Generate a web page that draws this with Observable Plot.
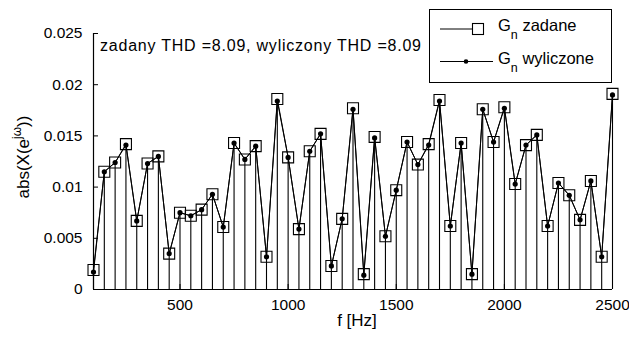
<!DOCTYPE html>
<html>
<head>
<meta charset="utf-8">
<script src="https://cdn.jsdelivr.net/npm/d3@7"></script>
<script src="https://cdn.jsdelivr.net/npm/@observablehq/plot@0.6"></script>
<style>
  html, body { margin: 0; padding: 0; background: #fff; }
  svg { display: block; }
</style>
</head>
<body>
<div id="chart"></div>
<script>
// Frequencies of harmonics (Hz)
const freqs = d3.range(100, 2501, 50);
// G_n zadane (set values)
const zadane = [
  0.0019, 0.0115, 0.0124, 0.0142, 0.0067, 0.0123, 0.0130, 0.0035, 0.0075, 0.0072,
  0.0078, 0.0093, 0.0061, 0.0143, 0.0127, 0.0140, 0.0032, 0.0186, 0.0129, 0.0059,
  0.0135, 0.0152, 0.0023, 0.0069, 0.0177, 0.0015, 0.0149, 0.0052, 0.0097, 0.0144,
  0.0122, 0.0142, 0.0185, 0.0062, 0.0143, 0.0015, 0.0176, 0.0144, 0.0178, 0.0103,
  0.0141, 0.0151, 0.0062, 0.0104, 0.0092, 0.0068, 0.0106, 0.0032, 0.0191
];
// G_n wyliczone (computed values)
const wyliczone = [
  0.0017, 0.0115, 0.0124, 0.0141, 0.0067, 0.0123, 0.0130, 0.0035, 0.0075, 0.0072,
  0.0078, 0.0093, 0.0061, 0.0143, 0.0127, 0.0140, 0.0032, 0.0184, 0.0129, 0.0059,
  0.0135, 0.0152, 0.0023, 0.0069, 0.0176, 0.0014, 0.0148, 0.0052, 0.0097, 0.0144,
  0.0122, 0.0141, 0.0184, 0.0062, 0.0143, 0.0015, 0.0176, 0.0144, 0.0177, 0.0103,
  0.0141, 0.0151, 0.0062, 0.0104, 0.0092, 0.0068, 0.0106, 0.0032, 0.0190
];
const xTicks = [500, 1000, 1500, 2000, 2500];
const yTicks = [0, 0.005, 0.01, 0.015, 0.02, 0.025];
const yTickLabels = ["0", "0.005", "0.01", "0.015", "0.02", "0.025"];
const legendLabels = ["zadane", "wyliczone"];
const annotation = "zadany THD =8.09, wyliczony THD =8.09";

const dataZ = freqs.map((f, i) => ({f, v: zadane[i]}));
const dataW = freqs.map((f, i) => ({f, v: wyliczone[i]}));

const font = "'Liberation Sans', Arial, sans-serif";

const plot = Plot.plot({
  width: 629,
  height: 343,
  marginLeft: 93,
  marginRight: 17,
  marginTop: 33,
  marginBottom: 54,
  style: {fontFamily: font, fontSize: "15.5px", background: "#fff", color: "#000"},
  x: {domain: [100, 2500], ticks: xTicks, tickSize: -5, tickPadding: 14,
      tickFormat: d => String(d), label: null},
  y: {domain: [0, 0.025], ticks: yTicks, tickSize: -5, tickPadding: 16,
      tickFormat: d => yTickLabels[yTicks.indexOf(d)] ?? String(d), label: null},
  marks: [
    Plot.ruleX(dataW, {x: "f", y1: 0, y2: "v", stroke: "#000", strokeWidth: 1.1}),
    Plot.line(dataZ, {x: "f", y: "v", stroke: "#000", strokeWidth: 1}),
    Plot.line(dataW, {x: "f", y: "v", stroke: "#000", strokeWidth: 1}),
    Plot.dot(dataZ, {x: "f", y: "v", symbol: "square", r: 6.2, stroke: "#000", strokeWidth: 1.1, fill: "none"}),
    Plot.dot(dataW, {x: "f", y: "v", r: 2.6, fill: "#000", stroke: "none"}),
    Plot.ruleX([100], {stroke: "#000", strokeWidth: 1.2}),
    Plot.ruleY([0], {stroke: "#000", strokeWidth: 1.2})
  ]
});

const svg = d3.select(plot);
// annotation
svg.append("text")
  .attr("x", 100).attr("y", 47)
  .attr("text-anchor", "start").attr("dominant-baseline", "middle")
  .attr("font-family", font).attr("font-size", 16).attr("fill", "#000")
  .attr("textLength", 321).attr("lengthAdjust", "spacing")
  .text(annotation);
// axis titles
svg.append("text")
  .attr("transform", "translate(25,157) rotate(-90)")
  .attr("text-anchor", "middle").attr("dominant-baseline", "middle")
  .attr("font-family", font).attr("font-size", 17).attr("fill", "#000")
  .call(t => {
    t.append("tspan").text("abs(X(e");
    t.append("tspan").text("jω").attr("font-size", 12).attr("dy", -7);
    t.append("tspan").text("))").attr("dy", 7);
  });
svg.append("text")
  .attr("x", 357).attr("y", 322)
  .attr("text-anchor", "middle").attr("dominant-baseline", "middle")
  .attr("font-family", font).attr("font-size", 17).attr("fill", "#000")
  .text("f [Hz]");

// legend
const lg = svg.append("g");
lg.append("rect").attr("x", 429.5).attr("y", 9.5).attr("width", 182).attr("height", 73)
  .attr("fill", "#fff").attr("stroke", "#000").attr("stroke-width", 1);
const rowsY = [29, 61.5];
const legendWidths = [84, 102];
legendLabels.forEach((lab, i) => {
  const y = rowsY[i];
  lg.append("line").attr("x1", 440).attr("x2", i === 0 ? 478 : 493)
    .attr("y1", y).attr("y2", y).attr("stroke", "#000").attr("stroke-width", 1);
  if (i === 0) {
    lg.append("rect").attr("x", 472.5).attr("y", y - 5.5).attr("width", 11).attr("height", 11)
      .attr("fill", "#fff").attr("stroke", "#000").attr("stroke-width", 1.1);
  } else {
    lg.append("circle").attr("cx", 466).attr("cy", y).attr("r", 2.3).attr("fill", "#000");
  }
  const t = lg.append("text").attr("x", 498).attr("y", y - 2)
    .attr("text-anchor", "start").attr("dominant-baseline", "middle")
    .attr("font-family", font).attr("font-size", 16.5).attr("fill", "#000");
  t.append("tspan").text("G");
  t.append("tspan").text("n").attr("font-size", 12.5).attr("dy", 9);
  t.append("tspan").text(" " + lab).attr("dy", -9);
});

document.getElementById("chart").appendChild(plot);
</script>
</body>
</html>
